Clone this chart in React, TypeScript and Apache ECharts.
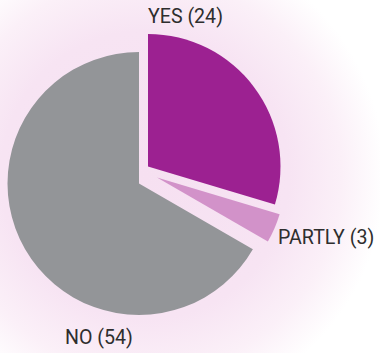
import React, { useEffect, useRef } from "react";
import * as echarts from "echarts";

const categories = ["YES", "PARTLY", "NO"];
const counts = [24, 3, 54];
const sliceColors = ["#9c2191", "#d292c9", "#939598"];

// layout (per slice: pie centre, radius, label anchor)
const centers: [number, number][] = [
  [148, 166.5],
  [157, 177.5],
  [139, 183.5],
];
const radii = [132.5, 128, 131.5];
const labelPos: [number, number][] = [
  [148, 16.5],
  [278, 237],
  [65, 337],
];

export default function App() {
  const ref = useRef<HTMLDivElement>(null);
  useEffect(() => {
    if (!ref.current) return;
    const chart = echarts.init(ref.current, undefined, { renderer: "svg" });
    const series = categories.map((_, k) => ({
      type: "pie",
      center: centers[k],
      radius: radii[k],
      startAngle: 90,
      clockwise: true,
      silent: true,
      z: 2 + k,
      labelLine: { show: false },
      label: { show: false },
      emphasis: { disabled: true },
      data: categories.map((name, i) => ({
        name,
        value: counts[i],
        itemStyle: { color: i === k ? sliceColors[i] : "rgba(0,0,0,0)" },
        label:
          i === k
            ? {
                show: true,
                position: "inside",
                formatter: "{b} ({c})",
                color: "#2e2e2e",
                fontSize: 19.6,
                fontFamily: "Roboto",
              }
            : { show: false },
      })),
      labelLayout: () => ({
        x: labelPos[k][0],
        y: labelPos[k][1],
        align: "left",
        verticalAlign: "middle",
      }),
    }));
    chart.setOption({
      animation: false,
      graphic: [
        {
          type: "rect",
          z: -10,
          silent: true,
          shape: { x: 0, y: 0, width: 380, height: 353 },
          style: {
            fill: new echarts.graphic.RadialGradient(
              145,
              175,
              240,
              [
                { offset: 0, color: "#f6e0f1" },
                { offset: 0.6, color: "#f7e4f3" },
                { offset: 0.82, color: "#fbf0f8" },
                { offset: 1, color: "#ffffff" },
              ],
              true
            ),
          },
        },
      ],
      series,
    } as any);
    return () => chart.dispose();
  }, []);
  return (
    <div
      ref={ref}
      style={{ position: "fixed", left: 0, top: 0, width: 380, height: 353, background: "#ffffff" }}
    />
  );
}
